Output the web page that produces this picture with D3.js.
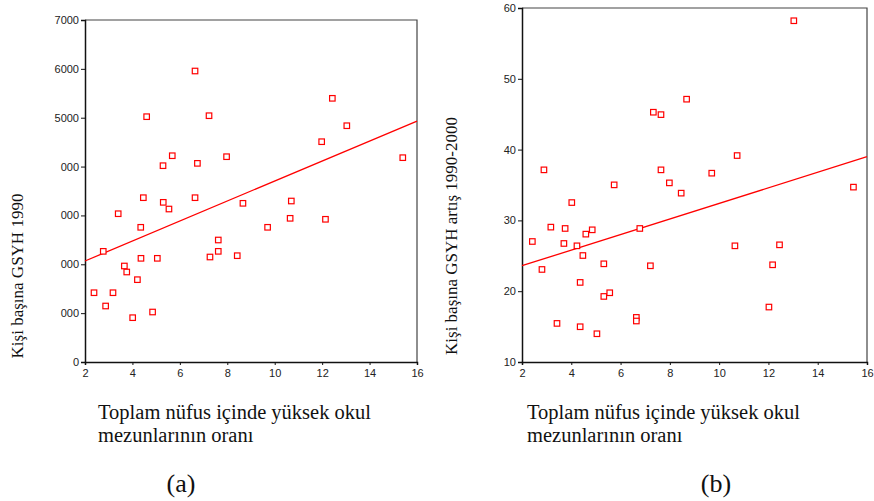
<!DOCTYPE html>
<html><head><meta charset="utf-8">
<script src="https://cdn.jsdelivr.net/npm/d3@7"></script>
<style>
html,body{margin:0;padding:0;background:#fff;}
svg{display:block;}
.tick text{font-family:"Liberation Sans",Arial,sans-serif;font-size:11px;fill:#222;}
.ttl{font-family:"Liberation Serif","Times New Roman",serif;fill:#111;}
</style>
</head><body>
<svg id="chart" width="874" height="501"></svg>
<script>
// ---- data ----
const xTicks = [2, 4, 6, 8, 10, 12, 14, 16];

const leftYTicks = [0, 1000, 2000, 3000, 4000, 5000, 6000, 7000];
const leftYTickLabels = ["0", "000", "000", "000", "000", "5000", "6000", "7000"];
const leftX = [6.64, 4.60, 7.23, 12.43, 11.98, 13.04, 5.68, 5.29, 6.74, 7.97, 15.40,
  4.46, 5.30, 5.54, 6.64, 3.40, 4.35, 8.66, 10.70, 10.65, 12.14, 9.70, 7.62, 7.62, 7.27, 8.42,
  2.77, 4.36, 5.05, 3.66, 3.76, 4.21, 2.38, 3.18, 2.87, 4.01, 4.85];
const leftY = [5956, 5021, 5041, 5397, 4509, 4836, 4222, 4018, 4066, 4202, 4182,
  3363, 3268, 3131, 3363, 3035, 2757, 3248, 3295, 2941, 2921, 2757, 2497, 2265, 2149, 2176,
  2265, 2122, 2122, 1965, 1842, 1685, 1418, 1418, 1146, 907, 1023];
const leftFitX = [2, 16];
const leftFitY = [2067, 4932];

const rightYTicks = [10, 20, 30, 40, 50, 60];
const rightX = [13.03, 7.33, 7.64, 8.68, 2.89, 7.64, 5.74, 7.98, 8.46, 9.70, 10.73, 15.45,
  4.02, 3.17, 3.75, 2.42, 3.70, 4.59, 4.85, 6.78, 4.23, 4.47, 2.81, 5.32, 7.21, 4.36, 5.32,
  5.56, 3.42, 4.36, 5.04, 6.64, 6.64, 10.64, 12.45, 12.17, 12.02];
const rightY = [58.2, 45.28, 44.94, 47.12, 37.14, 37.14, 35.02, 35.30, 33.85, 36.67, 39.16, 34.70,
  32.52, 29.05, 28.86, 27.02, 26.74, 28.06, 28.67, 28.86, 26.41, 25.04, 23.07, 23.87, 23.59, 21.24, 19.26,
  19.78, 15.45, 14.98, 13.99, 16.30, 15.79, 26.41, 26.55, 23.73, 17.76];
const rightFitX = [2, 16];
const rightFitY = [23.6, 39.0];

const yTitleLeft = "Kişi başına GSYH 1990";
const yTitleRight = "Kişi başına GSYH artış 1990-2000";
const xTitleLines = ["Toplam nüfus içinde yüksek okul", "mezunlarının oranı"];
const panelLabels = ["(a)", "(b)"];

// ---- drawing ----
const svg = d3.select("#chart");
const red = "#ff0000";

function panel(cfg) {
  const g = svg.append("g");
  const x = d3.scaleLinear().domain([2, 16]).range([cfg.x0, cfg.x1]);
  const y = d3.scaleLinear().domain(cfg.yDomain).range([cfg.y0, cfg.y1]);

  // frame top/right
  g.append("path")
    .attr("d", `M${cfg.x0},${cfg.y1}H${cfg.x1}V${cfg.y0}`)
    .attr("fill", "none").attr("stroke", "#444").attr("stroke-width", 1.2);

  const xa = g.append("g").attr("transform", `translate(0,${cfg.y0})`)
    .call(d3.axisBottom(x).tickValues(xTicks).tickSize(3).tickPadding(4).tickFormat(d3.format("d")));
  const ya = g.append("g").attr("transform", `translate(${cfg.x0},0)`)
    .call(d3.axisLeft(y).tickValues(cfg.yTicks).tickSize(4).tickPadding(2)
      .tickFormat((d, i) => cfg.yLabels ? cfg.yLabels[i] : d));
  [xa, ya].forEach(a => {
    a.select(".domain").attr("stroke", "#111").attr("stroke-width", 1.5);
    a.selectAll(".tick line").attr("stroke", "#111");
  });

  // fit line
  const line = d3.line().x(d => x(d[0])).y(d => y(d[1]));
  g.append("path")
    .datum(cfg.fitX.map((v, i) => [v, cfg.fitY[i]]))
    .attr("d", line).attr("fill", "none").attr("stroke", red).attr("stroke-width", 1.3);

  // points
  const s = 5.5;
  g.selectAll("rect.pt").data(cfg.px.map((v, i) => [v, cfg.py[i]])).enter()
    .append("rect").attr("class", "pt")
    .attr("x", d => x(d[0]) - s / 2).attr("y", d => y(d[1]) - s / 2)
    .attr("width", s).attr("height", s)
    .attr("fill", "#fff").attr("stroke", red).attr("stroke-width", 1.2);

  // y title
  g.append("text").attr("class", "ttl")
    .attr("transform", `translate(${cfg.yTitleX},${cfg.yTitleY}) rotate(-90)`)
    .attr("text-anchor", "middle").attr("font-size", 17)
    .text(cfg.yTitle);

  // x title
  xTitleLines.forEach((t, i) => {
    g.append("text").attr("class", "ttl")
      .attr("x", cfg.xTitleX).attr("y", 419 + i * 23)
      .attr("font-size", 20.5).text(t);
  });

  g.append("text").attr("class", "ttl")
    .attr("x", cfg.panelX).attr("y", 492).attr("text-anchor", "middle")
    .attr("font-size", 26).text(cfg.panel);
}

panel({
  x0: 85, x1: 417, y0: 362, y1: 20,
  yDomain: [0, 7000], yTicks: leftYTicks, yLabels: leftYTickLabels,
  px: leftX, py: leftY, fitX: leftFitX, fitY: leftFitY,
  yTitle: yTitleLeft, yTitleX: 23, yTitleY: 276,
  xTitleX: 98, panel: panelLabels[0], panelX: 181
});
panel({
  x0: 522, x1: 867, y0: 362, y1: 8,
  yDomain: [10, 60], yTicks: rightYTicks, yLabels: null,
  px: rightX, py: rightY, fitX: rightFitX, fitY: rightFitY,
  yTitle: yTitleRight, yTitleX: 457, yTitleY: 236,
  xTitleX: 527, panel: panelLabels[1], panelX: 716
});
</script>
</body></html>
